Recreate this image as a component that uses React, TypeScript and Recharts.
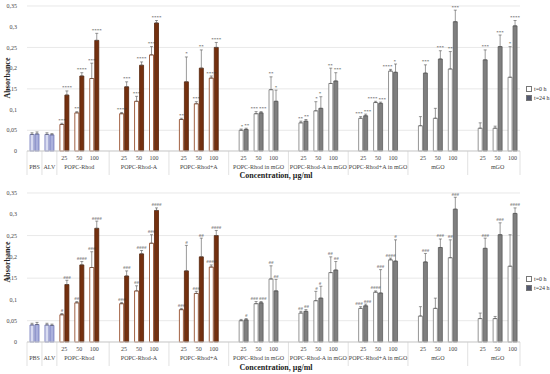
import React from 'react'
import { BarChart, Bar, XAxis, YAxis, CartesianGrid, ErrorBar, Cell, LabelList } from 'recharts'

const FONT = '"Liberation Serif", "DejaVu Serif", serif'

const controls = ['PBS', 'ALV']
const groups = [
  'POPC-Rhod',
  'POPC-Rhod-A',
  'POPC-Rhod+A',
  'POPC-Rhod in mGO',
  'POPC-Rhod-A in mGO',
  'POPC-Rhod+A in mGO',
  'mGO',
  'mGO',
]
const concentrations = ['25', '50', '100']
const yTicks = [0, 0.05, 0.1, 0.15, 0.2, 0.25, 0.3, 0.35]

// bar order: PBS, ALV, then each group at 25 / 50 / 100
const t0 = [0.04, 0.04, 0.064, 0.092, 0.175, 0.09, 0.12, 0.232, 0.076, 0.114, 0.176, 0.05, 0.09, 0.148, 0.068, 0.097, 0.163, 0.079, 0.117, 0.193, 0.061, 0.079, 0.198, 0.055, 0.055, 0.178]
const t24 = [0.041, 0.039, 0.135, 0.181, 0.267, 0.155, 0.207, 0.309, 0.167, 0.2, 0.25, 0.052, 0.092, 0.12, 0.072, 0.103, 0.169, 0.085, 0.115, 0.19, 0.188, 0.222, 0.312, 0.22, 0.252, 0.302]

const err0Top = [0.004, 0.004, 0.003, 0.003, 0.037, 0.003, 0.012, 0.02, 0.003, 0.005, 0.005, 0.003, 0.005, 0.031, 0.004, 0.022, 0.037, 0.004, 0.003, 0.004, 0.022, 0.024, 0.042, 0.013, 0.005, 0.074]
const err24Top = [0.005, 0.003, 0.01, 0.008, 0.017, 0.012, 0.008, 0.006, 0.06, 0.044, 0.012, 0.003, 0.003, 0.027, 0.004, 0.028, 0.02, 0.004, 0.003, 0.02, 0.02, 0.02, 0.028, 0.024, 0.028, 0.013]
const err0Bottom = err0Top
const err24Bottom = [0.005, 0.003, 0.01, 0.008, 0.017, 0.012, 0.008, 0.006, 0.06, 0.044, 0.012, 0.003, 0.003, 0.027, 0.004, 0.028, 0.02, 0.004, 0.055, 0.05, 0.02, 0.02, 0.028, 0.024, 0.028, 0.013]

const stars0 = ['', '', '***', '**', '***', '****', '***', '***', '**', '***', '****', '*', '***', '**', '**', '*', '**', '***', '****', '****', '', '', '**', '', '', '*']
const stars24 = ['', '', '****', '****', '****', '***', '****', '****', '*', '**', '****', '**', '***', '*', '**', '*', '***', '***', '***', '*', '***', '***', '***', '***', '***', '****']
const hash0 = ['', '', '#', '##', '###', '###', '##', '###', '###', '###', '####', '', '###', '##', '##', '#', '##', '###', '####', '####', '', '', '##', '', '', '']
const hash24 = ['', '', '###', '####', '####', '###', '####', '####', '#', '##', '####', '#', '###', '##', '##', '#', '##', '###', '###', '#', '###', '###', '###', '###', '###', '####']

const palette: Record<string, { f0: string; s0: string; f24: string; s24: string }> = {
  ctrl: { f0: '#d9dcf1', s0: '#6d74b8', f24: '#aab0dc', s24: '#6d74b8' },
  rhod: { f0: '#ffffff', s0: '#8a3a14', f24: '#74300f', s24: '#56230a' },
  mgo: { f0: '#ffffff', s0: '#7a7a7a', f24: '#7f7f7f', s24: '#5e5e5e' },
  gap: { f0: 'none', s0: 'none', f24: 'none', s24: 'none' },
}

type Row = {
  key: string
  tick: string
  group: string
  kind: string
  sepLeft: boolean
  last: boolean
  i: number
}

function buildRows(): Row[] {
  const rows: Row[] = []
  let i = 0
  controls.forEach((c) => {
    rows.push({ key: c, tick: '', group: c, kind: 'ctrl', sepLeft: true, last: false, i: i++ })
  })
  groups.forEach((g, gi) => {
    if (gi > 0) rows.push({ key: 'gap' + gi, tick: '', group: '', kind: 'gap', sepLeft: false, last: false, i: -1 })
    concentrations.forEach((c, ci) => {
      rows.push({
        key: g + gi + c,
        tick: c,
        group: ci === 1 ? g : '',
        kind: gi < 3 ? 'rhod' : 'mgo',
        sepLeft: gi === 0 && ci === 0,
        last: gi === groups.length - 1 && ci === 2,
        i: i++,
      })
    })
  })
  return rows
}

const rows = buildRows()

// label value = "mark|err|anchor"; neighbouring labels at similar height are pushed apart
function makeData(e0: number[], e24: number[], m0: string[], m24: string[], ppu: number) {
  return rows.map((r) => {
    if (r.i < 0) return { ...r, t0: 0, t24: 0, e0: null, e24: null, l0: '', l24: '' }
    const k = r.i
    const h0 = (t0[k] + e0[k]) * ppu
    const h24 = (t24[k] + e24[k]) * ppu
    const close = m0[k] && m24[k] && Math.abs(h0 - h24) < 7
    return {
      ...r,
      t0: t0[k],
      t24: t24[k],
      e0: [0, e0[k]],
      e24: [0, e24[k]],
      l0: m0[k] ? `${m0[k]}|${e0[k]}|${close ? 'end' : 'middle'}` : '',
      l24: m24[k] ? `${m24[k]}|${e24[k]}|${close ? 'start' : 'middle'}` : '',
    }
  })
}

const SLOT = 493 / rows.length

function XTick(props: any) {
  const { x, y, payload } = props
  const r = rows[payload.index]
  if (!r) return null
  return (
    <g fontFamily={FONT} fill="#444">
      {r.tick && (
        <text x={x} y={y + 9} textAnchor="middle" fontSize={6}>
          {r.tick}
        </text>
      )}
      {r.group && (
        <text x={x} y={y + 18} textAnchor="middle" fontSize={6}>
          {r.group}
        </text>
      )}
      {r.sepLeft && <line x1={x - SLOT / 2} x2={x - SLOT / 2} y1={y} y2={y + 24} stroke="#ccc" strokeWidth={0.6} />}
      {r.kind === 'gap' && <line x1={x} x2={x} y1={y} y2={y + 24} stroke="#ccc" strokeWidth={0.6} />}
      {r.last && <line x1={x + SLOT / 2} x2={x + SLOT / 2} y1={y} y2={y + 24} stroke="#ccc" strokeWidth={0.6} />}
    </g>
  )
}

function markLabel(pxPerUnit: number) {
  return (props: any) => {
    const { x, y, width, value } = props
    if (!value) return null
    const [mark, e, anchor] = String(value).split('|')
    const cx = Number(x) + Number(width) / 2
    const px = anchor === 'end' ? cx + 2 : anchor === 'start' ? cx - 2 : cx
    return (
      <text
        x={px}
        y={Number(y) - Number(e) * pxPerUnit - 1.5}
        textAnchor={anchor}
        fontSize={5}
        fontFamily={FONT}
        fill="#333"
      >
        {mark}
      </text>
    )
  }
}

function Panel({ height, top, axisH, e0, e24, m0, m24 }: any) {
  const plotH = height - top - axisH
  const ppu = plotH / 0.35
  const data = makeData(e0, e24, m0, m24, ppu)
  return (
    <BarChart
      width={550}
      height={height}
      data={data}
      margin={{ top, right: 30, left: 0, bottom: 0 }}
      barSize={4}
      barGap={1}
    >
      <CartesianGrid vertical={false} stroke="#dedede" strokeWidth={0.7} />
      <XAxis
        dataKey="key"
        height={axisH}
        interval={0}
        tickLine={false}
        tickSize={0}
        tickMargin={0}
        axisLine={{ stroke: '#cfcfcf' }}
        tick={<XTick />}
      />
      <YAxis
        width={27}
        domain={[0, 0.35]}
        ticks={yTicks}
        axisLine={false}
        tickLine={false}
        tickMargin={4}
        tick={{ fontSize: 6, fontFamily: FONT, fill: '#444' }}
        tickFormatter={(v: number) => String(v).replace('.', ',')}
      />
      <Bar dataKey="t0" isAnimationActive={false} strokeWidth={0.8}>
        {data.map((d) => (
          <Cell key={d.key} fill={palette[d.kind].f0} stroke={palette[d.kind].s0} />
        ))}
        <ErrorBar dataKey="e0" width={1.5} stroke="#555" strokeWidth={0.6} />
        <LabelList dataKey="l0" content={markLabel(ppu)} />
      </Bar>
      <Bar dataKey="t24" isAnimationActive={false} strokeWidth={0.8}>
        {data.map((d) => (
          <Cell key={d.key} fill={palette[d.kind].f24} stroke={palette[d.kind].s24} />
        ))}
        <ErrorBar dataKey="e24" width={1.5} stroke="#555" strokeWidth={0.6} />
        <LabelList dataKey="l24" content={markLabel(ppu)} />
      </Bar>
    </BarChart>
  )
}

function Legend({ top }: { top: number }) {
  const item = (fill: string, label: string, dy: number) => (
    <div style={{ position: 'absolute', left: 526, top: top + dy, display: 'flex', alignItems: 'center', fontSize: 6, fontFamily: FONT, color: '#333', whiteSpace: 'nowrap' }}>
      <span style={{ display: 'inline-block', width: 4, height: 4, background: fill, border: '0.6px solid #777', marginRight: 2 }} />
      {label}
    </div>
  )
  return (
    <>
      {item('#ffffff', 't=0 h', 0)}
      {item('#555a70', 't=24 h', 9)}
    </>
  )
}

const overlayText = (text: string, left: number, top: number, rotate = false) => (
  <div
    style={{
      position: 'absolute',
      left,
      top,
      fontFamily: FONT,
      fontWeight: 'bold',
      fontSize: 8,
      color: '#222',
      whiteSpace: 'nowrap',
      transform: rotate ? 'translate(-50%, -50%) rotate(-90deg)' : 'translate(-50%, 0)',
    }}
  >
    {text}
  </div>
)

export default function App() {
  return (
    <div style={{ position: 'absolute', left: 0, top: 0, width: 550, height: 374, background: '#fff' }}>
      <div style={{ position: 'absolute', left: 0, top: 0 }}>
        <Panel height={185} top={6} axisH={34} e0={err0Top} e24={err24Top} m0={stars0} m24={stars24} />
      </div>
      <div style={{ position: 'absolute', left: 0, top: 185 }}>
        <Panel height={189} top={8} axisH={32} e0={err0Bottom} e24={err24Bottom} m0={hash0} m24={hash24} />
      </div>
      {overlayText('Absorbance', 7, 78, true)}
      {overlayText('Absorbance', 7, 262, true)}
      {overlayText('Concentration, µg/ml', 276, 171)}
      {overlayText('Concentration, µg/ml', 276, 363)}
      <Legend top={86} />
      <Legend top={276} />
    </div>
  )
}
